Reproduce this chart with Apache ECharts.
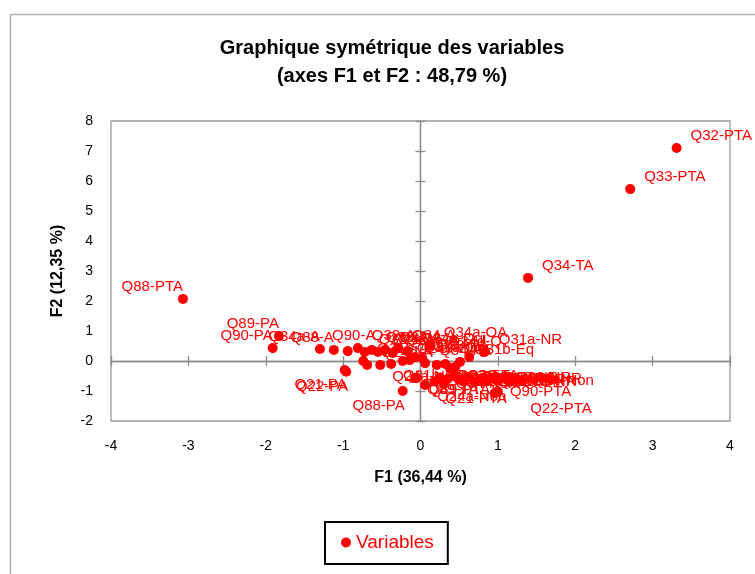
<!DOCTYPE html>
<html>
<head>
<meta charset="utf-8">
<script src="https://cdn.jsdelivr.net/npm/echarts@6/dist/echarts.min.js"></script>
<style>html,body{margin:0;padding:0;background:#fff;}#c{width:755px;height:574px;}</style>
</head>
<body>
<div id="c"></div>
<script>
// ---- data ----
const names = ['Q32-PTA','Q33-PTA','Q34-TA','Q88-PTA','Q89-PA','Q90-PA','Q34a-A','Q88-A','Q90-A','Q32-A','Q33-A','Q89-A','Q21-A','Q22-A','Q31a-A','Q34-A','Q24a-Oui','Q31b-A','Q24d-A','Q24a-NR','Q31b-NR','Q24d-Oui','Q31a-Oui','Q21-PA','Q22-PA','Q88-PA','Q89-TA','Q34a-OA','Q31a-NR','Q24d-Q','Q31b-Eq','Q32-PA','Q33-PA','Q34-PA','Q21-TA','Q22-TA','Q88-TA','Q90-TA','Q89-PTA','Q24a-Non','Q21-PTA','Q90-PTA','Q22-PTA','Q31a-Non','Q31b-Non','Q32-TA','Q33-TA','Q34a-Non','Q24d-Non','Q31a-PA','Q31b-PA','Q32-NR','Q33-NR','Q34-NR','Q88-NR','Q89-NR','Q24-Non','Q34a-NR','Q34-Non'];
const f1 = [3.31,2.71,1.39,-3.07,-1.83,-1.91,-1.30,-1.12,-0.94,-0.81,-0.72,-0.63,-0.55,-0.46,-0.36,-0.29,-0.17,-0.74,-0.69,-0.52,-0.38,-0.23,-0.14,-0.98,-0.96,-0.23,-0.07,0.12,0.83,0.63,0.51,-0.07,0.02,0.06,0.21,0.32,0.38,0.45,-0.05,0.06,0.96,1.00,0.98,0.25,0.35,0.45,0.55,0.62,0.70,0.78,0.85,0.92,1.00,1.08,1.15,1.22,1.30,0.18,0.30];
const f2 = [7.10,5.73,2.77,2.07,0.83,0.43,0.40,0.37,0.33,0.43,0.30,0.37,0.30,0.37,0.27,0.43,0.33,0.00,-0.13,-0.13,-0.10,0.00,0.03,-0.30,-0.36,-1.00,-0.57,0.53,0.30,0.13,-0.03,0.13,0.10,-0.07,-0.13,-0.10,-0.23,-0.20,-0.57,-0.80,-1.07,-1.02,-1.05,-0.55,-0.60,-0.50,-0.65,-0.55,-0.70,-0.58,-0.68,-0.55,-0.62,-0.55,-0.70,-0.60,-0.65,-0.68,-0.75];
// label side for each point (ra: right-above, la: left-above, lb: left-below, rb: right-below, r: right, a: above, b: below-left, fr: far right-below)
const labelSide = ['ra','ra','ra','la','la','la','la','la','a','ra','ra','ra','ra','ra','ra','ra','ra','ra','ra','rb','rb','ra','ra','lb','lb','lb','rb','ra','ra','a','ra','ra','ra','ra','rb','rb','rb','rb','rb','rb','b','r','fr','r','r','r','r','r','r','r','r','r','r','r','r','r','r','r','r'];
const xTicks = {min:-4, max:4, step:1};
const yTicks = {min:-2, max:8, step:1};

// ---- styles ----
const FONT = '"Liberation Sans", Arial, sans-serif';
const RED = '#ff0000';
const sideStyle = {
  ra: {position:'right', d:[4,-12]},
  r:  {position:'right', d:[2,0]},
  la: {position:'left', d:[10,-12]},
  lb: {position:'left', d:[12,15]},
  rb: {position:'right', d:[2,12]},
  a:  {position:'top', d:[6,2]},
  b:  {position:'left', d:[22,6]},
  fr: {position:'right', d:[24,16]}
};
const points = names.map((n,i)=>({
  name:n, value:[f1[i], f2[i]],
  label:{position: sideStyle[labelSide[i]].position}
}));

const tickAxisX = (inside)=>({
  type:'value', min:xTicks.min, max:xTicks.max, interval:xTicks.step, position:'bottom',
  axisLine:{show:true, onZero:true, onZeroAxisIndex:0, lineStyle:{color:'#8c8c8c', width:1.3}},
  axisTick:{show:true, inside:inside, length:5, lineStyle:{color:'#8c8c8c', width:1.3}},
  axisLabel:{show:false}, splitLine:{show:false}
});
const tickAxisY = (inside)=>({
  type:'value', min:yTicks.min, max:yTicks.max, interval:yTicks.step, position:'left',
  axisLine:{show:true, onZero:true, onZeroAxisIndex:0, lineStyle:{color:'#8c8c8c', width:1.3}},
  axisTick:{show:true, inside:inside, length:5, lineStyle:{color:'#8c8c8c', width:1.3}},
  axisLabel:{show:false}, splitLine:{show:false}
});

const chart = echarts.init(document.getElementById('c'), null, {renderer:'canvas'});
chart.setOption({
  animation:false,
  backgroundColor:'#fff',
  textStyle:{fontFamily:FONT},
  graphic:[{type:'rect', left:8, top:12, shape:{width:800, height:620}, style:{fill:'none', stroke:'#b0b0b0', lineWidth:1.5}, silent:true, z:-10}],
  title:{
    text:'Graphique symétrique des variables\n(axes F1 et F2 : 48,79 %)',
    left:387, textAlign:'center', top:29,
    textStyle:{fontFamily:FONT, fontSize:20, fontWeight:'bold', color:'#000', lineHeight:28}
  },
  legend:{
    left:325, top:522, orient:'horizontal',
    borderColor:'#000', borderWidth:2, padding:[11,14,12,16],
    icon:'circle', itemWidth:10, itemHeight:10, itemGap:5,
    itemStyle:{opacity:1},
    textStyle:{color:RED, fontSize:19, fontFamily:FONT}
  },
  grid:{left:111, right:25, top:121, bottom:153, show:true, borderColor:'#9a9a9a', borderWidth:1.3, backgroundColor:'transparent'},
  xAxis:[
    {type:'value', min:xTicks.min, max:xTicks.max, interval:xTicks.step, position:'bottom',
     axisLine:{show:false, onZero:false}, axisTick:{show:false}, splitLine:{show:false},
     axisLabel:{color:'#000', fontSize:14, margin:18, fontFamily:FONT},
     name:'F1 (36,44 %)', nameLocation:'middle', nameGap:49,
     nameTextStyle:{fontSize:16, fontWeight:'bold', color:'#000', fontFamily:FONT}},
    tickAxisX(false), tickAxisX(true)
  ],
  yAxis:[
    {type:'value', min:yTicks.min, max:yTicks.max, interval:yTicks.step, position:'left',
     axisLine:{show:false, onZero:false}, axisTick:{show:false}, splitLine:{show:false},
     axisLabel:{color:'#000', fontSize:14, margin:18, fontFamily:FONT},
     name:'F2 (12,35 %)', nameLocation:'middle', nameGap:45, nameRotate:90,
     nameTextStyle:{fontSize:16, fontWeight:'bold', color:'#000', fontFamily:FONT}},
    tickAxisY(false), tickAxisY(true)
  ],
  series:[{
    name:'Variables', type:'scatter', xAxisIndex:0, yAxisIndex:0,
    symbol:'circle', symbolSize:10, itemStyle:{color:RED, opacity:1},
    label:{show:true, formatter:'{b}', color:RED, fontSize:15, fontFamily:FONT},
    labelLayout:function(p){
      const s = sideStyle[labelSide[p.dataIndex]];
      return {dx:s.d[0], dy:s.d[1], hideOverlap:false};
    },
    data:points
  }]
});
</script>
</body>
</html>
